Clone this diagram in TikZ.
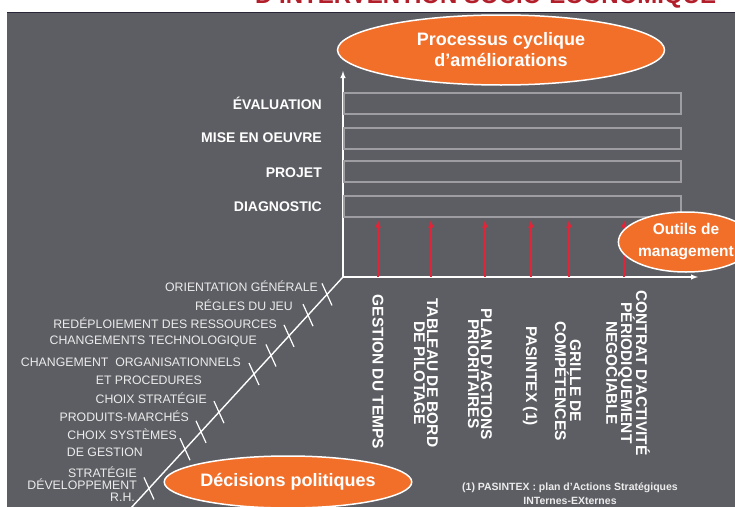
\documentclass[tikz,border=0pt]{standalone}
\usepackage{fontspec}
\setmainfont{Liberation Sans}
\usetikzlibrary{shapes.geometric}
\definecolor{panelgray}{RGB}{93,94,99}
\definecolor{paneledge}{RGB}{40,38,56}
\definecolor{bubbleorange}{RGB}{241,111,41}
\definecolor{toolred}{RGB}{226,36,56}
\definecolor{bargray}{RGB}{158,158,162}
\definecolor{titlered}{RGB}{178,30,42}
\definecolor{softwhite}{RGB}{236,236,236}
\begin{document}
\begin{tikzpicture}[x=1pt,y=-1pt]
\tikzset{axis/.style={->,>=latex,white,line width=1.4pt}}
\tikzstyle{tool}=[->,>=latex,draw=toolred,line width=1.6pt]
\tikzstyle{bar}=[draw=bargray,line width=1.6pt]
\tikzstyle{tick}=[white,line width=1.2pt]
\tikzstyle{phase}=[anchor=east,inner sep=0pt,text=white,font=\fontsize{14}{16}\selectfont\bfseries]
\tikzstyle{choice}=[anchor=east,inner sep=0pt,text=softwhite,font=\fontsize{12.3}{14}\selectfont]
\tikzstyle{outil}=[rotate=-90,align=center,inner sep=0pt,text=white,font=\fontsize{15.5}{13}\selectfont\bfseries]
\tikzstyle{bubble}=[ellipse,draw=white,line width=1.5pt,fill=bubbleorange,text=white,align=center,inner sep=0pt]
\useasboundingbox (0,0) rectangle (735,506);
% fond
\node[anchor=base west,inner sep=0pt,text=titlered,font=\fontsize{24}{26}\selectfont\bfseries] (title)at(255,4){D'INTERVENTION SOCIO-ÉCONOMIQUE};
\fill[panelgray] (7,12) rectangle (745,515);
\draw[paneledge,line width=1pt] (7,12)--(745,12);
% axes
\coordinate (o)at(343,277);
\coordinate (ytip)at(343,71);
\coordinate (xtip)at(698,277);
\coordinate (dtip)at(131,508);
\draw[axis] (o)--(ytip);
\draw[axis] (o)--(xtip);
\draw[white,line width=1.4pt] (o)--(dtip);
% phases
\foreach \t/\b in {93/114,128/149,161/182,196/217}
  \draw[bar] (344,\t) rectangle (681,\b);
\node[phase] (p4)at(322,103){ÉVALUATION};
\node[phase] (p3)at(322,138){MISE EN OEUVRE};
\node[phase] (p2)at(322,173){PROJET};
\node[phase] (p1)at(322,207){DIAGNOSTIC};
% decisions
\foreach \x in {327,308,289,271,254,219,201,185,149}
  \draw[tick] ({\x-5},{277+(343-\x)*1.09-11})--({\x+5},{277+(343-\x)*1.09+11});
\node[choice] (c1)at(318,286){ORIENTATION GÉNÉRALE};
\node[choice] (c2)at(293,305){RÉGLES DU JEU};
\node[choice] (c3)at(277,323){REDÉPLOIEMENT DES RESSOURCES};
\node[choice] (c4)at(257,341){CHANGEMENTS TECHNOLOGIQUE};
\node[choice] (c5)at(241,362){CHANGEMENT\ \ ORGANISATIONNELS};
\node[choice] (c6)at(202,380){ET PROCEDURES};
\node[choice] (c7)at(207,398){CHOIX STRATÉGIE};
\node[choice] (c8)at(189,416){PRODUITS-MARCHÉS};
\node[choice] (c9)at(177,434){CHOIX SYSTÈMES};
\node[choice] (c10)at(143,452){DE GESTION};
\node[choice] (c11)at(137,472){STRATÉGIE};
\node[choice] (c12)at(137,484){DÉVELOPPEMENT};
\node[choice] (c13)at(135,497){R.H.};
% outils
\foreach \i/\x in {1/378,2/431,3/485,4/531,5/569,6/624}{
  \coordinate (f\i)at(\x,277);
  \coordinate (t\i)at(\x,220);
  \draw[tool] (f\i)--(t\i);
}
\node[outil] (o1)at(378,372){GESTION DU TEMPS};
\node[outil] (o2)at(426,373){TABLEAU DE BORD\\DE PILOTAGE};
\node[outil] (o3)at(480,374){PLAN D'ACTIONS\\PRIORITAIRES};
\node[outil] (o4)at(530,376){PASINTEX (1)};
\node[outil] (o5)at(568,381){GRILLE DE\\COMPÉTENCES};
\node[outil] (o6)at(628,373){CONTRAT D'ACTIVITÉ\\PÉRIODIQUEMENT\\NEGOCIABLE};
% bulles
\node[bubble,minimum width=327,minimum height=70,font=\fontsize{18}{21}\selectfont\bfseries] (proc)at(501,50){Processus cyclique\\d'améliorations};
\node[bubble,minimum width=213,minimum height=52,font=\fontsize{18}{21}\selectfont\bfseries] (dec)at(288,482){Décisions politiques};
\node[bubble,minimum width=116,minimum height=60,font=\fontsize{15.5}{22}\selectfont\bfseries] (outm)at(686,242){Outils de\\management};
\node[align=center,inner sep=0pt,text=softwhite,font=\fontsize{10.5}{14}\selectfont\bfseries] (note)at(570,494){(1) PASINTEX : plan d'Actions Stratégiques\\INTernes-EXternes};
\end{tikzpicture}
\end{document}
